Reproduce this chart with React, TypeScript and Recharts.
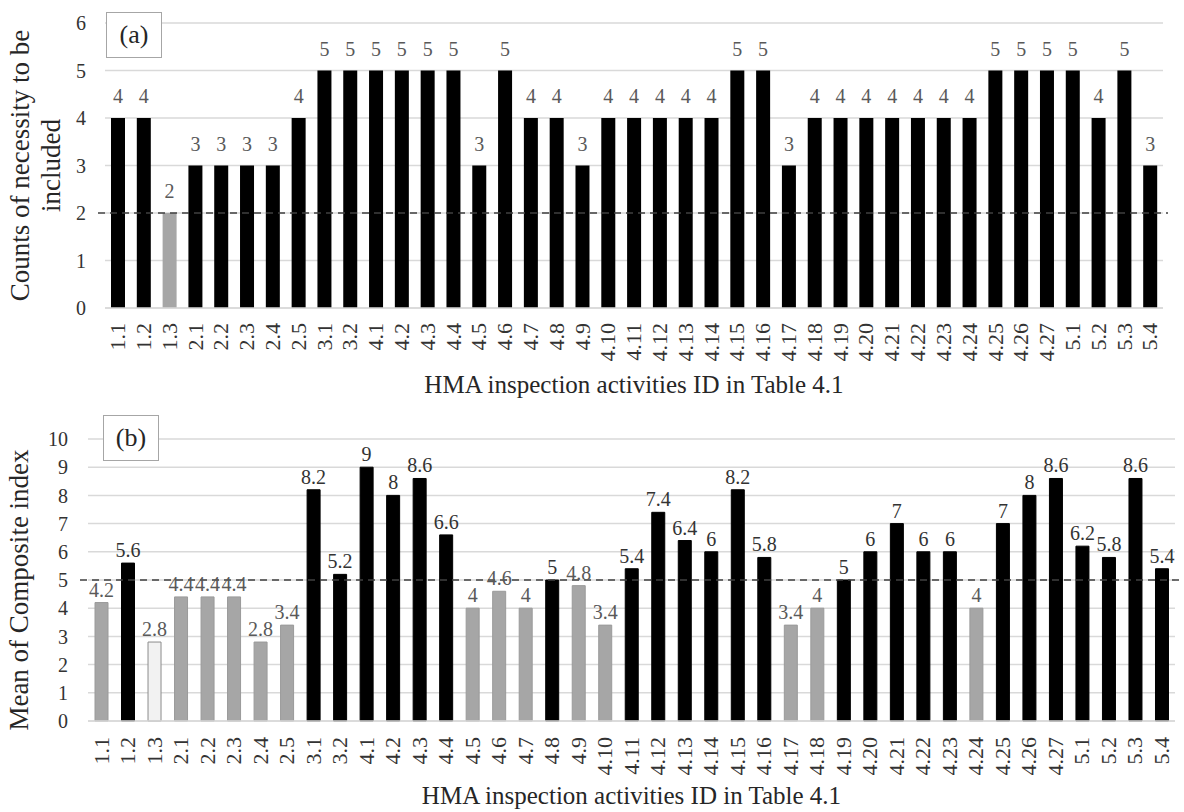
import {
  Bar,
  BarChart,
  CartesianGrid,
  Cell,
  LabelList,
  ReferenceLine,
  XAxis,
  YAxis,
} from "recharts";

const ids = [
  "1.1", "1.2", "1.3", "2.1", "2.2", "2.3", "2.4", "2.5", "3.1", "3.2",
  "4.1", "4.2", "4.3", "4.4", "4.5", "4.6", "4.7", "4.8", "4.9", "4.10",
  "4.11", "4.12", "4.13", "4.14", "4.15", "4.16", "4.17", "4.18", "4.19", "4.20",
  "4.21", "4.22", "4.23", "4.24", "4.25", "4.26", "4.27", "5.1", "5.2", "5.3", "5.4",
];

// (a) counts of necessity to be included
const counts = [
  4, 4, 2, 3, 3, 3, 3, 4, 5, 5,
  5, 5, 5, 5, 3, 5, 4, 4, 3, 4,
  4, 4, 4, 4, 5, 5, 3, 4, 4, 4,
  4, 4, 4, 4, 5, 5, 5, 5, 4, 5, 3,
];

// (b) mean of composite index
const means = [
  4.2, 5.6, 2.8, 4.4, 4.4, 4.4, 2.8, 3.4, 8.2, 5.2,
  9, 8, 8.6, 6.6, 4, 4.6, 4, 5, 4.8, 3.4,
  5.4, 7.4, 6.4, 6, 8.2, 5.8, 3.4, 4, 5, 6,
  7, 6, 6, 4, 7, 8, 8.6, 6.2, 5.8, 8.6, 5.4,
];

const countTicks = [0, 1, 2, 3, 4, 5, 6];
const meanTicks = [0, 1, 2, 3, 4, 5, 6, 7, 8, 9, 10];
const countThreshold = 2;
const meanThreshold = 5;

const FONT =
  "'Liberation Serif', 'Times New Roman', Times, Tinos, 'Noto Serif', 'DejaVu Serif', FreeSerif, serif";
const BLACK = "#000000";
const GRAY = "#a6a6a6";
const WHITE = "#f2f2f2";
const GRID = "#d9d9d9";

const countFill = (i: number) => (counts[i] <= countThreshold ? GRAY : BLACK);
const meanFill = (i: number) =>
  counts[i] <= countThreshold ? WHITE : means[i] >= meanThreshold ? BLACK : GRAY;
const meanStroke = (i: number) =>
  counts[i] <= countThreshold ? "#8c8c8c" : means[i] >= meanThreshold ? BLACK : "#9a9a9a";

function IdTick({ x, y, payload, shift }: any) {
  const ty = y + shift;
  return (
    <text
      x={x}
      y={ty}
      transform={`rotate(-90, ${x}, ${ty})`}
      textAnchor="end"
      dy="0.33em"
      fontFamily={FONT}
      fontSize={22}
      fill="#333"
    >
      {payload.value}
    </text>
  );
}

function valueLabel(offset: number, size: number, colorFor: (i: number) => string) {
  return (p: any) => {
    const cx = p.x + p.width / 2;
    return (
      <text
        x={cx}
        y={p.y - offset}
        textAnchor="middle"
        fontFamily={FONT}
        fontSize={size}
        fill={colorFor(p.index)}
      >
        {p.value}
      </text>
    );
  };
}

function dashed(left: number, right: number) {
  return (p: any) => (
    <line
      x1={p.x1 - left}
      y1={p.y1}
      x2={p.x2 + right}
      y2={p.y2}
      stroke="#404040"
      strokeWidth={1.3}
      strokeDasharray="7 5"
    />
  );
}

function rotated(lines: { text: string; dx: number }[], shiftY: number) {
  return ({ viewBox }: any) => {
    const cy = viewBox.y + viewBox.height / 2 + shiftY;
    return (
      <g>
        {lines.map((l) => (
          <text
            key={l.text}
            x={l.dx}
            y={cy}
            transform={`rotate(-90, ${l.dx}, ${cy})`}
            textAnchor="middle"
            fontFamily={FONT}
            fontSize={27}
            fill="#262626"
          >
            {l.text}
          </text>
        ))}
      </g>
    );
  };
}

const tagStyle = (left: number, top: number): React.CSSProperties => ({
  position: "absolute",
  left,
  top,
  width: 56,
  height: 46,
  boxSizing: "border-box",
  border: "1.5px solid #a6a6a6",
  background: "#fff",
  display: "flex",
  alignItems: "center",
  justifyContent: "center",
  fontFamily: FONT,
  fontSize: 26,
  color: "#262626",
});

const axisTitle = { fontFamily: FONT, fontSize: 25, fill: "#262626" };
const tickText = { fontFamily: FONT, fontSize: 20, fill: "#333" };

export default function App() {
  const countRows = ids.map((id, i) => ({ id, value: counts[i] }));
  const meanRows = ids.map((id, i) => ({ id, value: means[i] }));

  return (
    <div
      style={{
        position: "absolute",
        left: 0,
        top: 0,
        width: 1184,
        height: 812,
        background: "#fff",
        fontFamily: FONT,
      }}
    >
      <BarChart
        width={1184}
        height={400}
        data={countRows}
        margin={{ top: 23, right: 21, left: 0, bottom: 0 }}
      >
        <CartesianGrid vertical={false} stroke={GRID} strokeWidth={1.5} />
        <XAxis
          dataKey="id"
          interval={0}
          height={92}
          tickLine={false}
          tickSize={0}
          axisLine={{ stroke: GRID, strokeWidth: 1.5 }}
          tick={(p: any) => <IdTick {...p} shift={13} />}
          label={{
            value: "HMA inspection activities ID in Table 4.1",
            position: "insideBottom",
            offset: 7,
            style: axisTitle,
          }}
        />
        <YAxis
          width={105}
          domain={[0, 6]}
          ticks={countTicks}
          axisLine={false}
          tickLine={false}
          tickSize={0}
          tickMargin={19}
          tick={{ style: tickText }}
          label={{
            content: rotated(
              [
                { text: "Counts of necessity to be", dx: 29 },
                { text: "included", dx: 60 },
              ],
              0
            ),
          }}
        />
        <ReferenceLine y={countThreshold} shape={dashed(7, 5)} />
        <Bar dataKey="value" barSize={14} isAnimationActive={false}>
          {countRows.map((r, i) => (
            <Cell key={r.id} fill={countFill(i)} />
          ))}
          <LabelList dataKey="value" content={valueLabel(15, 20, () => "#595959")} />
        </Bar>
      </BarChart>

      <BarChart
        width={1184}
        height={412}
        data={meanRows}
        margin={{ top: 39, right: 9, left: 0, bottom: 0 }}
      >
        <CartesianGrid vertical={false} stroke={GRID} strokeWidth={1.5} />
        <XAxis
          dataKey="id"
          interval={0}
          height={91}
          tickLine={false}
          tickSize={0}
          axisLine={{ stroke: GRID, strokeWidth: 1.5 }}
          tick={(p: any) => <IdTick {...p} shift={14} />}
          label={{
            value: "HMA inspection activities ID in Table 4.1",
            position: "insideBottom",
            offset: 8,
            style: axisTitle,
          }}
        />
        <YAxis
          width={88}
          domain={[0, 10]}
          ticks={meanTicks}
          axisLine={false}
          tickLine={false}
          tickSize={0}
          tickMargin={20}
          tick={{ style: tickText }}
          label={{
            content: rotated([{ text: "Mean of Composite index", dx: 28 }], 10),
          }}
        />
        <ReferenceLine y={meanThreshold} shape={dashed(8, 9)} />
        <Bar dataKey="value" barSize={13} isAnimationActive={false}>
          {meanRows.map((r, i) => (
            <Cell key={r.id} fill={meanFill(i)} stroke={meanStroke(i)} strokeWidth={1} />
          ))}
          <LabelList
            dataKey="value"
            content={valueLabel(6, 20, (i) => (meanFill(i) === BLACK ? "#333" : "#595959"))}
          />
        </Bar>
      </BarChart>

      <div style={tagStyle(106, 12)}>(a)</div>
      <div style={tagStyle(103, 415)}>(b)</div>
    </div>
  );
}
